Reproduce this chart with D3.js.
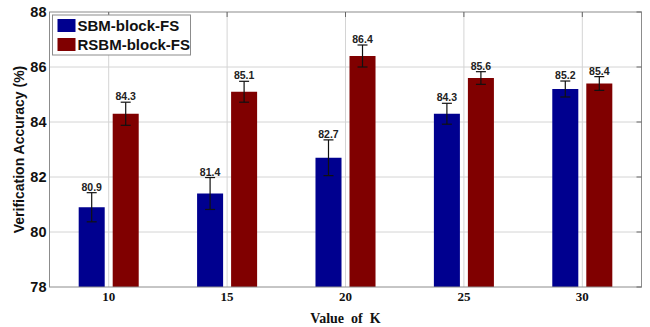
<!DOCTYPE html>
<html>
<head>
<meta charset="utf-8">
<script src="https://cdn.jsdelivr.net/npm/d3@7"></script>
<style>
  body { margin: 0; background: #fff; }
  svg { display: block; }
</style>
</head>
<body>
<svg id="chart" width="650" height="327"></svg>
<script>
// chart values
var kValues = [10, 15, 20, 25, 30];
var seriesNames = ['SBM-block-FS', 'RSBM-block-FS'];
var sbmValues = [80.9, 81.4, 82.7, 84.3, 85.2];
var rsbmValues = [84.3, 85.1, 86.4, 85.6, 85.4];
var sbmErrors = [0.53, 0.58, 0.65, 0.38, 0.29];
var rsbmErrors = [0.42, 0.38, 0.4, 0.23, 0.25];
var yTicks = [78, 80, 82, 84, 86, 88];

var colors = ['#00008f', '#800000'];
var margin = {top: 12, right: 8.5, bottom: 40, left: 49.5};
var width = 650 - margin.left - margin.right;
var height = 327 - margin.top - margin.bottom;

var svg = d3.select('svg#chart');
var g = svg.append('g')
  .attr('transform', 'translate(' + margin.left + ',' + margin.top + ')');

var xScale = d3.scaleBand().domain(kValues).range([0, width])
  .paddingInner(0.493).paddingOuter(0.2465);
var xInner = d3.scaleBand().domain([0, 1]).range([0, xScale.bandwidth()])
  .paddingInner(0.235);
var yScale = d3.scaleLinear().domain([78, 88]).range([height, 0]);

// grid
g.append('g').selectAll('line.hgrid')
  .data(yTicks.slice(1, -1)).enter().append('line')
  .attr('x1', 0).attr('x2', width)
  .attr('y1', function(d) { return yScale(d); })
  .attr('y2', function(d) { return yScale(d); })
  .attr('stroke', '#d4d4d4').attr('stroke-width', 1);
g.append('g').selectAll('line.vgrid')
  .data(kValues).enter().append('line')
  .attr('x1', function(d) { return xScale(d) + xScale.bandwidth() / 2; })
  .attr('x2', function(d) { return xScale(d) + xScale.bandwidth() / 2; })
  .attr('y1', 0).attr('y2', height)
  .attr('stroke', '#d4d4d4').attr('stroke-width', 1);

// bars
var rows = kValues.map(function(k, i) {
  return [
    {k: k, s: 0, v: sbmValues[i], e: sbmErrors[i]},
    {k: k, s: 1, v: rsbmValues[i], e: rsbmErrors[i]}
  ];
});
var groups = g.append('g').selectAll('g.group')
  .data(rows).enter().append('g')
  .attr('transform', function(d) { return 'translate(' + xScale(d[0].k) + ',0)'; });
var items = groups.selectAll('g.item').data(function(d) { return d; }).enter().append('g');

items.append('rect')
  .attr('x', function(d) { return xInner(d.s); })
  .attr('width', xInner.bandwidth())
  .attr('y', function(d) { return yScale(d.v); })
  .attr('height', function(d) { return height - yScale(d.v); })
  .attr('fill', function(d) { return colors[d.s]; });

// error bars
var cx = function(d) { return xInner(d.s) + xInner.bandwidth() / 2; };
items.append('line')
  .attr('x1', cx).attr('x2', cx)
  .attr('y1', function(d) { return yScale(d.v + d.e); })
  .attr('y2', function(d) { return yScale(d.v - d.e); })
  .attr('stroke', '#111').attr('stroke-width', 1.2);
[1, -1].forEach(function(sign) {
  items.append('line')
    .attr('x1', function(d) { return cx(d) - 5; })
    .attr('x2', function(d) { return cx(d) + 5; })
    .attr('y1', function(d) { return yScale(d.v + sign * d.e); })
    .attr('y2', function(d) { return yScale(d.v + sign * d.e); })
    .attr('stroke', '#111').attr('stroke-width', 1.2);
});
items.append('text')
  .attr('x', cx)
  .attr('y', function(d) { return yScale(d.v + d.e) - 2; })
  .attr('text-anchor', 'middle')
  .style('font', 'bold 10.5px "Liberation Sans", Arial, sans-serif')
  .attr('fill', '#222')
  .text(function(d) { return d.v.toFixed(1); });

// axes box
g.append('rect').attr('width', width).attr('height', height)
  .attr('fill', 'none').attr('stroke', '#8c8c8c').attr('stroke-width', 1);

var yAxis = d3.axisLeft(yScale).tickValues(yTicks).tickSize(0).tickPadding(3);
g.append('g').call(yAxis)
  .call(function(s) { s.select('.domain').remove(); })
  .selectAll('text')
  .style('font', 'bold 14.5px "Liberation Sans", Arial, sans-serif')
  .attr('fill', '#111');

// small inward ticks on right and top
g.append('g').selectAll('line')
  .data(yTicks).enter().append('line')
  .attr('x1', width - 5).attr('x2', width)
  .attr('y1', function(d) { return yScale(d); })
  .attr('y2', function(d) { return yScale(d); })
  .attr('stroke', '#666');
g.append('g').selectAll('line')
  .data(kValues).enter().append('line')
  .attr('x1', function(d) { return xScale(d) + xScale.bandwidth() / 2; })
  .attr('x2', function(d) { return xScale(d) + xScale.bandwidth() / 2; })
  .attr('y1', 0).attr('y2', 5)
  .attr('stroke', '#666');

var xAxis = d3.axisBottom(xScale).tickSize(0).tickPadding(5);
g.append('g').attr('transform', 'translate(0,' + height + ')').call(xAxis)
  .call(function(s) { s.select('.domain').remove(); })
  .selectAll('text')
  .style('font', 'bold 13px "Liberation Serif", "Times New Roman", serif')
  .attr('fill', '#111');

// axis titles
svg.append('text')
  .attr('x', margin.left + xScale(20) + xScale.bandwidth() / 2)
  .attr('y', 323)
  .attr('text-anchor', 'middle')
  .style('font', 'bold 14px "Liberation Serif", "Times New Roman", serif')
  .style('white-space', 'pre')
  .attr('fill', '#111')
  .text('Value  of  K');
svg.append('text')
  .attr('transform', 'translate(24,' + (margin.top + height / 2) + ') rotate(-90)')
  .attr('text-anchor', 'middle')
  .style('font', 'bold 14px "Liberation Sans", Arial, sans-serif')
  .attr('fill', '#111')
  .text('Verification Accuracy (%)');

// legend
var legend = g.append('g').attr('transform', 'translate(3,3)');
legend.append('rect').attr('width', 138).attr('height', 40)
  .attr('fill', '#fff').attr('stroke', '#8c8c8c').attr('stroke-width', 1);
seriesNames.forEach(function(name, i) {
  legend.append('rect')
    .attr('x', 5).attr('y', 4 + i * 19)
    .attr('width', 18).attr('height', 13)
    .attr('fill', colors[i]);
  legend.append('text')
    .attr('x', 25).attr('y', 16 + i * 19)
    .style('font', 'bold 15px "Liberation Sans", Arial, sans-serif')
    .attr('fill', '#111')
    .text(name);
});
</script>
</body>
</html>
